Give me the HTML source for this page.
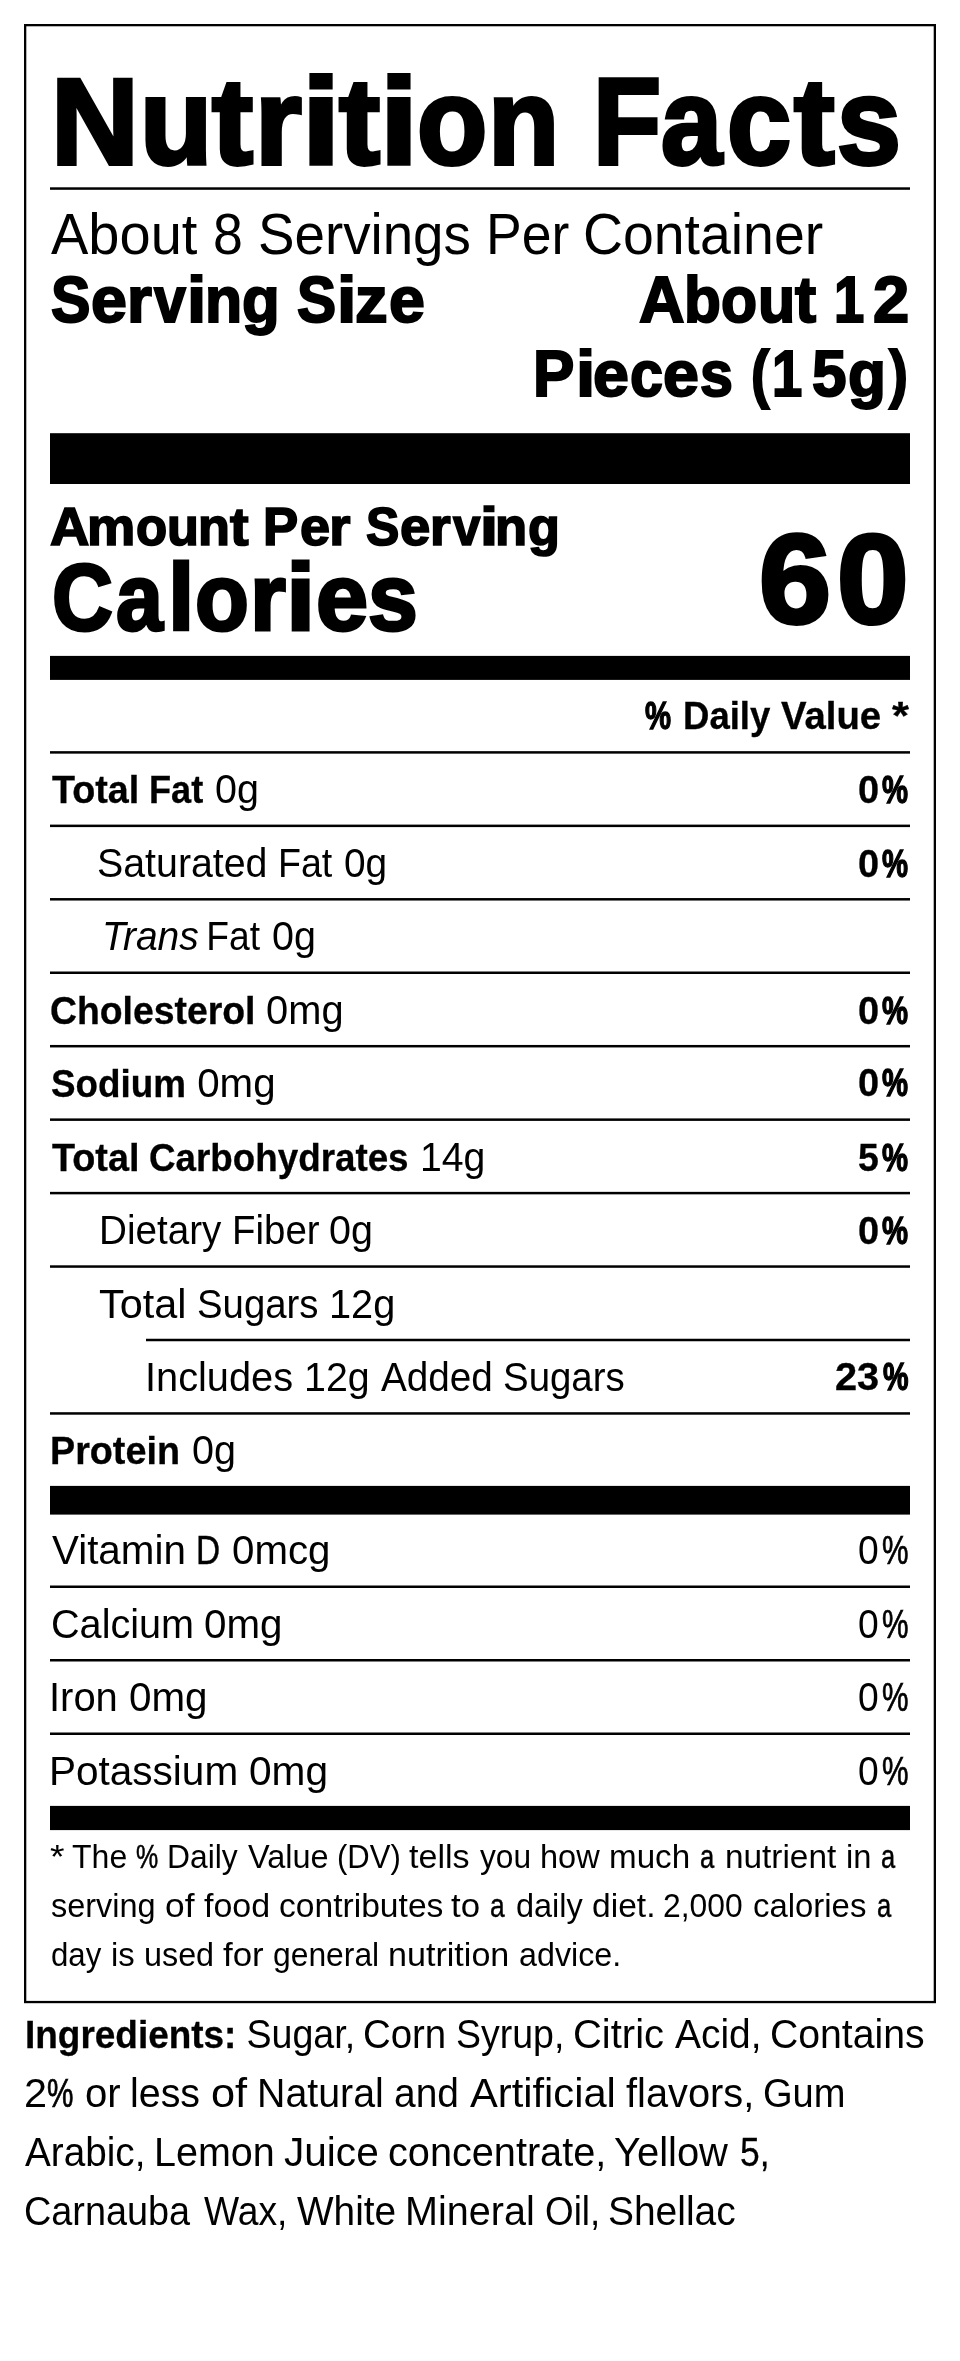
<!DOCTYPE html>
<html lang="en">
<head>
<meta charset="utf-8">
<title>Nutrition Facts</title>
<style>
html,body{margin:0;padding:0;background:#fff}
body{width:960px;height:2361px;position:relative;overflow:hidden;font-family:"Liberation Sans",sans-serif;color:#000}
svg{position:absolute;left:0;top:0}
#label{position:absolute;left:0;top:0;width:960px;height:2361px;will-change:transform}
#label div{position:absolute;white-space:pre;line-height:1;margin:0}
#label span{display:inline-block;transform-origin:0 0}
.r{font-weight:400}
.b{font-weight:700;-webkit-text-stroke:0.008em #000}
.k{font-weight:700;-webkit-text-stroke:0.032em #000}
.i{font-style:italic}
</style>
</head>
<body>
<svg width="960" height="2361" viewBox="0 0 960 2361" aria-hidden="true">
<rect x="25.15" y="25.15" width="909.7" height="1976.9" fill="none" stroke="#000" stroke-width="2.3"/>
<rect x="50" y="187.3" width="860" height="2.5" fill="#000"/>
<rect x="50" y="433.2" width="860" height="50.8" fill="#000"/>
<rect x="50" y="655.9" width="860" height="24" fill="#000"/>
<rect x="50" y="1485.9" width="860" height="28.7" fill="#000"/>
<rect x="50" y="1805.9" width="860" height="24.2" fill="#000"/>
<rect x="50" y="751.15" width="860" height="2.5" fill="#000"/>
<rect x="50" y="824.6" width="860" height="2.5" fill="#000"/>
<rect x="50" y="898.05" width="860" height="2.5" fill="#000"/>
<rect x="50" y="971.5" width="860" height="2.5" fill="#000"/>
<rect x="50" y="1044.95" width="860" height="2.5" fill="#000"/>
<rect x="50" y="1118.4" width="860" height="2.5" fill="#000"/>
<rect x="50" y="1191.85" width="860" height="2.5" fill="#000"/>
<rect x="50" y="1265.3" width="860" height="2.5" fill="#000"/>
<rect x="146" y="1338.75" width="764" height="2.5" fill="#000"/>
<rect x="50" y="1412.2" width="860" height="2.5" fill="#000"/>
<rect x="50" y="1585.5" width="860" height="2.5" fill="#000"/>
<rect x="50" y="1659" width="860" height="2.5" fill="#000"/>
<rect x="50" y="1732.5" width="860" height="2.5" fill="#000"/>
</svg>
<div id="label">
<div class="title" style="left:51.08px;top:60.03px;font-size:123.2px"><span class="k" style="transform:scaleX(0.9870)">N</span><span class="k" style="margin-left:-0.49px;transform:scaleX(0.9608)">u</span><span class="k" style="margin-left:-2.33px;transform:scaleX(1.0014)">t</span><span class="k" style="margin-left:1.65px;transform:scaleX(0.9751)">r</span><span class="k" style="margin-left:-1.5px;transform:scaleX(1.1161)">i</span><span class="k" style="margin-left:3.63px;transform:scaleX(1.0014)">t</span><span class="k" style="margin-left:-0.06px;transform:scaleX(1.1127)">i</span><span class="k" style="margin-left:2.65px;transform:scaleX(0.9349)">o</span><span class="k" style="margin-left:-4.49px;transform:scaleX(0.9477)">n </span><span class="k" style="margin-left:-4.34px;transform:scaleX(0.9041)">F</span><span class="k" style="margin-left:-7.96px;transform:scaleX(0.8907)">a</span><span class="k" style="margin-left:-1.72px;transform:scaleX(0.9342)">c</span><span class="k" style="margin-left:-1.56px;transform:scaleX(0.9906)">t</span><span class="k" style="margin-left:1.86px;transform:scaleX(0.9332)">s</span></div>
<div class="servings" style="left:51px;top:206.75px;font-size:56.5px"><span class="r" style="transform:scaleX(0.9913)">About </span><span class="r" style="margin-left:-0.9px;transform:scaleX(0.9497)">8 </span><span class="r" style="margin-left:-2.74px;transform:scaleX(0.9686)">Servings </span><span class="r" style="margin-left:-7.77px;transform:scaleX(0.9471)">Per </span><span class="r" style="margin-left:-6.07px;transform:scaleX(0.9803)">Container</span></div>
<div class="ssize" style="left:51.3px;top:268.88px;font-size:63.97px"><span class="k" style="transform:scaleX(0.9245)">S</span><span class="k" style="margin-left:-2.49px;transform:scaleX(1.0089)">e</span><span class="k" style="margin-left:-0.06px">r</span><span class="k" style="margin-left:2px;transform:scaleX(0.8945)">v</span><span class="k" style="margin-left:-2.91px;transform:scaleX(1.0811)">i</span><span class="k" style="margin-left:0.42px;transform:scaleX(0.9502)">n</span><span class="k" style="margin-left:-1.6px;transform:scaleX(0.9651)">g </span><span class="k" style="margin-left:-1.81px;transform:scaleX(0.9184)">S</span><span class="k" style="margin-left:-3.24px;transform:scaleX(1.0877)">i</span><span class="k" style="margin-left:0.91px;transform:scaleX(1.0205)">z</span><span class="k" style="margin-left:1.07px;transform:scaleX(1.0089)">e</span></div>
<div class="ssize" style="left:639px;top:268.83px;font-size:63.97px"><span class="k" style="transform:scaleX(0.9844)">A</span><span class="k" style="margin-left:-1.03px;transform:scaleX(0.9432)">b</span><span class="k" style="margin-left:-1.92px;transform:scaleX(0.9229)">o</span><span class="k" style="margin-left:-2.34px;transform:scaleX(0.9531)">u</span><span class="k" style="margin-left:-1.9px;transform:scaleX(0.9889)">t </span><span class="k" style="margin-left:-0.47px;transform:scaleX(0.8500)">1</span><span class="k" style="margin-left:3.39px;transform:scaleX(1.0178)">2</span></div>
<div class="ssize" style="left:533.09px;top:342.88px;font-size:63.97px"><span class="k" style="transform:scaleX(0.9688)">P</span><span class="k" style="margin-left:-0.19px;transform:scaleX(1.0811)">i</span><span class="k" style="margin-left:0.13px;transform:scaleX(1.0089)">e</span><span class="k" style="margin-left:0.51px;transform:scaleX(0.9265)">c</span><span class="k" style="margin-left:-1.67px;transform:scaleX(1.0089)">e</span><span class="k" style="margin-left:0.55px;transform:scaleX(0.9258)">s </span><span class="k" style="margin-left:-1.7px;transform:scaleX(0.8646)">(</span><span class="k" style="margin-left:-0.29px;transform:scaleX(0.8500)">1</span><span class="k" style="margin-left:4.16px;transform:scaleX(0.9704)">5</span><span class="k" style="margin-left:0.82px;transform:scaleX(0.9714)">g</span><span class="k" style="margin-left:1.97px;transform:scaleX(0.8885)">)</span></div>
<div class="amount" style="left:50px;top:500.13px;font-size:54.49px"><span class="k">A</span><span class="k" style="margin-left:-2.16px;transform:scaleX(0.9973)">m</span><span class="k" style="margin-left:0.37px;transform:scaleX(0.9367)">o</span><span class="k" style="margin-left:-2.71px;transform:scaleX(0.9580)">u</span><span class="k" style="margin-left:-1.56px;transform:scaleX(0.9577)">n</span><span class="k" style="margin-left:-1.39px;transform:scaleX(1.0239)">t </span><span class="k" style="margin-left:-0.17px;transform:scaleX(0.9678)">P</span><span class="k" style="margin-left:0.27px;transform:scaleX(0.9935)">e</span><span class="k" style="margin-left:-1.01px">r </span><span class="k" style="margin-left:0.33px;transform:scaleX(0.9171)">S</span><span class="k" style="margin-left:-2.26px;transform:scaleX(1.0014)">e</span><span class="k" style="margin-left:-0.05px;transform:scaleX(0.9764)">r</span><span class="k" style="margin-left:1.39px;transform:scaleX(0.9036)">v</span><span class="k" style="margin-left:-3.66px;transform:scaleX(1.1916)">i</span><span class="k" style="margin-left:0.68px;transform:scaleX(0.9653)">n</span><span class="k" style="margin-left:-0.58px;transform:scaleX(0.9580)">g</span></div>
<div class="cal" style="left:52.06px;top:550.38px;font-size:94.77px"><span class="k" style="transform:scaleX(0.8900)">C</span><span class="k" style="margin-left:-4.39px;transform:scaleX(0.8889)">a</span><span class="k" style="margin-left:-0.93px;transform:scaleX(1.0019)">l</span><span class="k" style="margin-left:0.9px;transform:scaleX(0.9304)">o</span><span class="k" style="margin-left:-2.66px;transform:scaleX(0.9724)">r</span><span class="k" style="margin-left:-0.84px;transform:scaleX(1.1152)">i</span><span class="k" style="margin-left:2.93px;transform:scaleX(0.9891)">e</span><span class="k" style="margin-left:0.05px;transform:scaleX(0.9454)">s</span></div>
<div class="cal" style="left:759.32px;top:516.98px;font-size:126.39px"><span class="k" style="transform:scaleX(1.0248)">6</span><span class="k" style="margin-left:7.35px;transform:scaleX(1.0179)">0</span></div>
<div class="dvh" style="left:644.96px;top:696px;font-size:39.4px"><span class="b" style="transform:scaleX(0.7435);-webkit-text-stroke:0.0354em #000">% </span><span class="b" style="margin-left:-7.89px;transform:scaleX(0.9274)">Daily </span><span class="b" style="margin-left:-7.13px;transform:scaleX(0.9730)">Value </span><span class="b" style="margin-left:-2.82px;transform:scaleX(1.1057)">*</span></div>
<div class="nutr" style="left:51.8px;top:770.1px;font-size:39.91px"><span class="b" style="font-size:39.4px;transform:scaleX(0.9571)">Total </span><span class="b" style="font-size:39.4px;margin-left:-4.79px;transform:scaleX(0.9181)">Fat</span><span class="r" style="margin-left:-4.74px;transform:scaleX(0.9893)"> 0g</span></div>
<div class="pct" style="left:857.82px;top:769.94px;font-size:39.4px"><span class="b" style="transform:scaleX(0.9626)">0</span><span class="b" style="margin-left:2.27px;transform:scaleX(0.7436);-webkit-text-stroke:0.0354em #000">%</span></div>
<div class="nutr" style="left:97.16px;top:843.8px;font-size:39.91px"><span class="r" style="transform:scaleX(0.9852)">Saturated </span><span class="r" style="margin-left:-3.21px;transform:scaleX(0.9419)">Fat </span><span class="r" style="margin-left:-2.69px;transform:scaleX(0.9727)">0g</span></div>
<div class="pct" style="left:857.82px;top:843.64px;font-size:39.4px"><span class="b" style="transform:scaleX(0.9626)">0</span><span class="b" style="margin-left:2.27px;transform:scaleX(0.7436);-webkit-text-stroke:0.0354em #000">%</span></div>
<div class="nutr" style="left:102.16px;top:917px;font-size:39.91px"><span class="r i" style="transform:scaleX(0.9763)">Trans</span><span class="r" style="margin-left:-5.28px;transform:scaleX(0.9329)"> Fat </span><span class="r" style="margin-left:-3.41px;transform:scaleX(0.9893)">0g</span></div>
<div class="nutr" style="left:50.23px;top:990.75px;font-size:39.91px"><span class="b" style="font-size:39.4px;transform:scaleX(0.9479)">Cholesterol</span><span class="r" style="margin-left:-11.79px;transform:scaleX(0.9981)"> 0mg</span></div>
<div class="pct" style="left:857.82px;top:990.59px;font-size:39.4px"><span class="b" style="transform:scaleX(0.9626)">0</span><span class="b" style="margin-left:2.27px;transform:scaleX(0.7436);-webkit-text-stroke:0.0354em #000">%</span></div>
<div class="nutr" style="left:51.05px;top:1063.5px;font-size:39.91px"><span class="b" style="font-size:39.4px;transform:scaleX(0.9345)">Sodium</span><span class="r" style="margin-left:-9.51px;transform:scaleX(1.0102)"> 0mg</span></div>
<div class="pct" style="left:857.82px;top:1063.34px;font-size:39.4px"><span class="b" style="transform:scaleX(0.9626)">0</span><span class="b" style="margin-left:2.27px;transform:scaleX(0.7436);-webkit-text-stroke:0.0354em #000">%</span></div>
<div class="nutr" style="left:51.8px;top:1138.25px;font-size:39.91px"><span class="b" style="font-size:39.4px;transform:scaleX(0.9587)">Total </span><span class="b" style="font-size:39.4px;margin-left:-4.5px;transform:scaleX(0.9336)">Carbohydrates</span><span class="r" style="margin-left:-18.14px;transform:scaleX(0.9823)"> 14g</span></div>
<div class="pct" style="left:857.92px;top:1138.09px;font-size:39.4px"><span class="b" style="transform:scaleX(0.9499)">5</span><span class="b" style="margin-left:2.17px;transform:scaleX(0.7436);-webkit-text-stroke:0.0354em #000">%</span></div>
<div class="nutr" style="left:98.86px;top:1210.75px;font-size:39.91px"><span class="r" style="transform:scaleX(0.9678)">Dietary </span><span class="r" style="margin-left:-4.49px;transform:scaleX(0.9633)">Fiber </span><span class="r" style="margin-left:-4.52px;transform:scaleX(0.9893)">0g</span></div>
<div class="pct" style="left:857.82px;top:1210.59px;font-size:39.4px"><span class="b" style="transform:scaleX(0.9626)">0</span><span class="b" style="margin-left:2.27px;transform:scaleX(0.7436);-webkit-text-stroke:0.0354em #000">%</span></div>
<div class="nutr" style="left:99.1px;top:1284.9px;font-size:39.91px"><span class="r" style="transform:scaleX(1.0370)">Total </span><span class="r" style="margin-left:2.36px;transform:scaleX(0.9613)">Sugars </span><span class="r" style="margin-left:-5.31px;transform:scaleX(0.9954)">12g</span></div>
<div class="nutr" style="left:145.28px;top:1357.6px;font-size:39.91px"><span class="r" style="transform:scaleX(0.9963)">Includes </span><span class="r" style="margin-left:-0.98px;transform:scaleX(0.9866)">12g </span><span class="r" style="margin-left:-0.94px;transform:scaleX(0.9694)">Added </span><span class="r" style="margin-left:-4.41px;transform:scaleX(0.9629)">Sugars</span></div>
<div class="pct" style="left:834.97px;top:1357.44px;font-size:39.4px"><span class="b" style="transform:scaleX(1.0099)">23</span><span class="b" style="margin-left:3.85px;transform:scaleX(0.7281);-webkit-text-stroke:0.038em #000">%</span></div>
<div class="nutr" style="left:49.82px;top:1430.75px;font-size:39.91px"><span class="b" style="font-size:39.4px;transform:scaleX(0.9575)">Protein</span><span class="r" style="margin-left:-5.02px;transform:scaleX(0.9905)"> 0g</span></div>
<div class="nutr" style="left:51.75px;top:1531px;font-size:39.91px"><span class="r" style="transform:scaleX(1.0113)">Vitamin </span><span class="r" style="margin-left:1.29px;transform:scaleX(0.8366);-webkit-text-stroke:0.0112em #000">D </span><span class="r" style="margin-left:-4.29px;transform:scaleX(1.0092)">0mcg</span></div>
<div class="pct" style="left:858.46px;top:1531px;font-size:39.91px"><span class="r" style="transform:scaleX(0.9328)">0</span><span class="r" style="margin-left:1.23px;transform:scaleX(0.7459);-webkit-text-stroke:0.0186em #000">%</span></div>
<div class="nutr" style="left:51.01px;top:1604.9px;font-size:39.91px"><span class="r" style="transform:scaleX(0.9927)">Calcium </span><span class="r" style="margin-left:-1.88px;transform:scaleX(1.0108)">0mg</span></div>
<div class="pct" style="left:858.46px;top:1604.9px;font-size:39.91px"><span class="r" style="transform:scaleX(0.9328)">0</span><span class="r" style="margin-left:1.23px;transform:scaleX(0.7459);-webkit-text-stroke:0.0186em #000">%</span></div>
<div class="nutr" style="left:49.05px;top:1678px;font-size:39.91px"><span class="r" style="transform:scaleX(1.0006)">Iron </span><span class="r" style="margin-left:0.18px;transform:scaleX(1.0117)">0mg</span></div>
<div class="pct" style="left:858.46px;top:1678px;font-size:39.91px"><span class="r" style="transform:scaleX(0.9328)">0</span><span class="r" style="margin-left:1.23px;transform:scaleX(0.7459);-webkit-text-stroke:0.0186em #000">%</span></div>
<div class="nutr" style="left:49.49px;top:1751.75px;font-size:39.91px"><span class="r" style="transform:scaleX(1.0152)">Potassium </span><span class="r" style="margin-left:2.47px;transform:scaleX(1.0189)">0mg</span></div>
<div class="pct" style="left:858.46px;top:1751.75px;font-size:39.91px"><span class="r" style="transform:scaleX(0.9328)">0</span><span class="r" style="margin-left:1.23px;transform:scaleX(0.7459);-webkit-text-stroke:0.0186em #000">%</span></div>
<div class="note" style="left:50.06px;top:1840.75px;font-size:32.42px"><span class="r" style="transform:scaleX(1.1539)">* </span><span class="r" style="margin-left:0.56px;transform:scaleX(0.9885)">The </span><span class="r" style="margin-left:-0.79px;transform:scaleX(0.7707);-webkit-text-stroke:0.0174em #000">% </span><span class="r" style="margin-left:-6.82px;transform:scaleX(0.9810)">Daily </span><span class="r" style="margin-left:-0.71px;transform:scaleX(1.0017)">Value </span><span class="r" style="margin-left:-0.35px;transform:scaleX(0.9569)">(DV) </span><span class="r" style="margin-left:-3.11px;transform:scaleX(1.0510)">tells </span><span class="r" style="margin-left:3.98px;transform:scaleX(0.9776)">you </span><span class="r" style="margin-left:-1.47px;transform:scaleX(1.0038)">how </span><span class="r" style="margin-left:0.76px;transform:scaleX(1.0235)">much </span><span class="r" style="margin-left:2.59px;transform:scaleX(0.7889);-webkit-text-stroke:0.0151em #000">a </span><span class="r" style="margin-left:-1.97px;transform:scaleX(1.0289)">nutrient </span><span class="r" style="margin-left:3.86px;transform:scaleX(1.0090)">in </span><span class="r" style="margin-left:0.98px;transform:scaleX(0.7851);-webkit-text-stroke:0.0154em #000">a</span></div>
<div class="note" style="left:50.89px;top:1889.9px;font-size:32.42px"><span class="r" style="transform:scaleX(1.0015)">serving </span><span class="r" style="margin-left:0.4px;transform:scaleX(1.0894)">of </span><span class="r" style="margin-left:3.08px;transform:scaleX(1.0493)">food </span><span class="r" style="margin-left:2.89px;transform:scaleX(1.0370)">contributes </span><span class="r" style="margin-left:5.01px;transform:scaleX(1.0747)">to </span><span class="r" style="margin-left:2.77px;transform:scaleX(0.8149);-webkit-text-stroke:0.0129em #000">a </span><span class="r" style="margin-left:-1.32px;transform:scaleX(1.0017)">daily </span><span class="r" style="margin-left:0.95px;transform:scaleX(1.0364)">diet. </span><span class="r" style="margin-left:0.59px;transform:scaleX(0.9825)">2,000 </span><span class="r" style="margin-left:-0.76px;transform:scaleX(1.0153)">calories </span><span class="r" style="margin-left:3.39px;transform:scaleX(0.7889);-webkit-text-stroke:0.0151em #000">a</span></div>
<div class="note" style="left:51.01px;top:1938.6px;font-size:32.42px"><span class="r" style="transform:scaleX(0.9619)">day </span><span class="r" style="margin-left:-1.5px;transform:scaleX(1.0125)">is </span><span class="r" style="margin-left:0.71px;transform:scaleX(0.9973)">used </span><span class="r" style="margin-left:-0.18px;transform:scaleX(1.0764)">for </span><span class="r" style="margin-left:2.97px;transform:scaleX(0.9821)">general </span><span class="r" style="margin-left:-2.01px;transform:scaleX(1.0525)">nutrition </span><span class="r" style="margin-left:6.56px;transform:scaleX(0.9954)">advice.</span></div>
<div class="ingr" style="left:24.79px;top:2014.9px;font-size:39.91px"><span class="b" style="font-size:39.4px;transform:scaleX(0.9379)">Ingredients:</span><span class="r" style="margin-left:-14.69px;transform:scaleX(0.9423)"> Sugar, </span><span class="r" style="margin-left:-9.94px;transform:scaleX(0.9615)">Corn </span><span class="r" style="margin-left:-4.84px;transform:scaleX(0.9390)">Syrup, </span><span class="r" style="margin-left:-9.45px;transform:scaleX(1.0012)">Citric </span><span class="r" style="margin-left:-0.05px;transform:scaleX(0.9753)">Acid, </span><span class="r" style="margin-left:-4.69px;transform:scaleX(0.9815)">Contains</span></div>
<div class="ingr" style="left:23.95px;top:2074.1px;font-size:39.91px"><span class="r" style="transform:scaleX(1.0394)">2</span><span class="r" style="margin-left:1.14px;transform:scaleX(0.7446);-webkit-text-stroke:0.0187em #000">% </span><span class="r" style="margin-left:-9.02px;transform:scaleX(1.0053)">or </span><span class="r" style="margin-left:-1.12px;transform:scaleX(0.9863)">less </span><span class="r" style="margin-left:-1.47px;transform:scaleX(1.0857)">of </span><span class="r" style="margin-left:1.76px;transform:scaleX(0.9858)">Natural </span><span class="r" style="margin-left:-2.46px;transform:scaleX(0.9760)">and </span><span class="r" style="margin-left:-2.1px;transform:scaleX(1.0440)">Artificial </span><span class="r" style="margin-left:5.59px;transform:scaleX(0.9969)">flavors, </span><span class="r" style="margin-left:-3.19px;transform:scaleX(0.9537)">Gum</span></div>
<div class="ingr" style="left:24.77px;top:2133px;font-size:39.91px"><span class="r" style="transform:scaleX(0.9698)">Arabic, </span><span class="r" style="margin-left:-6.27px;transform:scaleX(0.9896)">Lemon </span><span class="r" style="margin-left:-2.78px;transform:scaleX(1.0164)">Juice </span><span class="r" style="margin-left:-0.18px;transform:scaleX(0.9938)">concentrate, </span><span class="r" style="margin-left:-4.95px">Yellow </span><span class="r" style="margin-left:1.25px;transform:scaleX(0.8898);-webkit-text-stroke:0.0069em #000">5,</span></div>
<div class="ingr" style="left:24.16px;top:2191.75px;font-size:39.91px"><span class="r" style="transform:scaleX(0.9480)">Carnauba </span><span class="r" style="margin-left:-6.72px;transform:scaleX(0.9322)">Wax, </span><span class="r" style="margin-left:-7.71px;transform:scaleX(0.9715)">White </span><span class="r" style="margin-left:-4.68px;transform:scaleX(0.9910)">Mineral </span><span class="r" style="margin-left:-1.68px;transform:scaleX(0.9228)">Oil, </span><span class="r" style="margin-left:-8.05px;transform:scaleX(0.9753)">Shellac</span></div>
</div>
</body>
</html>
